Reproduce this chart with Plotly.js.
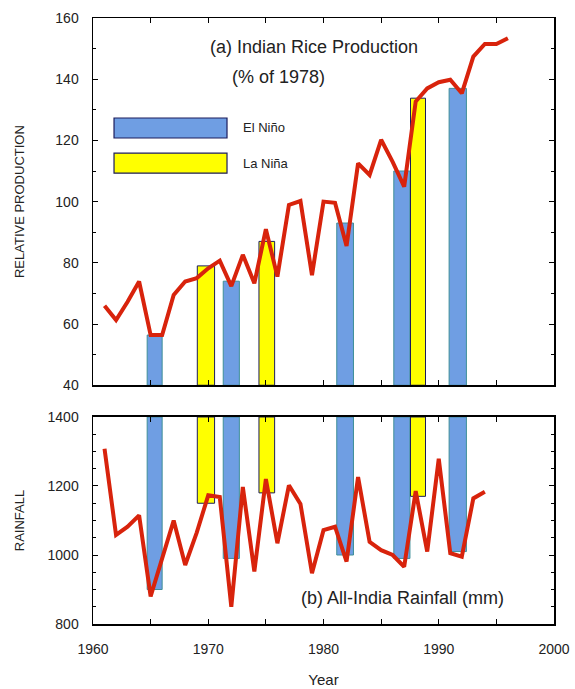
<!DOCTYPE html>
<html>
<head>
<meta charset="utf-8">
<script src="https://cdn.plot.ly/plotly-3.0.1.min.js"></script>
<style>html,body{margin:0;padding:0;background:#fff;}#chart{width:575px;height:689px;}</style>
</head>
<body>
<div id="chart"></div>
<script>
// ---- data ----
const riceYears = [1961,1962,1963,1964,1965,1966,1967,1968,1969,1970,1971,1972,1973,1974,1975,1976,1977,1978,1979,1980,1981,1982,1983,1984,1985,1986,1987,1988,1989,1990,1991,1992,1993,1994,1995,1996];
const riceProduction = [66,61.3,67.3,73.9,56.4,56.4,69.5,73.9,75,78.2,80.7,72.4,82.6,73.3,91,75.5,98.9,100.2,76,100,99.6,85.5,112.5,108.7,120.2,113,104.9,132.7,137,139,139.8,135.4,147.4,151.5,151.5,153.4];

const rainYears = [1961,1962,1963,1964,1965,1966,1967,1968,1969,1970,1971,1972,1973,1974,1975,1976,1977,1978,1979,1980,1981,1982,1983,1984,1985,1986,1987,1988,1989,1990,1991,1992,1993,1994];
const rainfall = [1308,1058,1082,1115,880,990,1100,971,1065,1173,1168,850,1197,952,1220,1034,1202,1148,947,1072,1082,981,1226,1038,1014,1000,966,1185,1010,1279,1005,995,1164,1183];

// El Niño events: span of the shaded bar (years), top in panel (a), bottom in panel (b)
const elNinoStart = [1964.7,1971.3,1981.15,1986.1,1990.9];
const elNinoEnd   = [1966.0,1972.7,1982.6,1987.5,1992.4];
const elNinoProd  = [56.4,74,93,110,137];
const elNinoRain  = [900,990,1000,990,1010];

// La Niña events
const laNinaStart = [1969.05,1974.4,1987.55];
const laNinaEnd   = [1970.55,1975.76,1988.85];
const laNinaProd  = [79,87,133.8];
const laNinaRain  = [1150,1180,1170];

const prodBase = 40, rainTop = 1400;

const mid = (s,e) => s.map((v,i) => (v + e[i]) / 2);
const wid = (s,e) => s.map((v,i) => e[i] - v);

const blueFill = '#6f9ee3', blueEdge = '#3f8f98';
const yellowFill = '#ffff00', yellowEdge = '#1c1c5c';
const red = '#d8230c';

const traces = [
  {type:'bar', x: mid(elNinoStart,elNinoEnd), width: wid(elNinoStart,elNinoEnd),
   y: elNinoProd.map(v => v - prodBase), base: elNinoProd.map(() => prodBase),
   xaxis:'x', yaxis:'y', marker:{color:blueFill, line:{color:blueEdge, width:1}}, showlegend:false, hoverinfo:'skip'},
  {type:'bar', x: mid(laNinaStart,laNinaEnd), width: wid(laNinaStart,laNinaEnd),
   y: laNinaProd.map(v => v - prodBase), base: laNinaProd.map(() => prodBase),
   xaxis:'x', yaxis:'y', marker:{color:yellowFill, line:{color:yellowEdge, width:1}}, showlegend:false, hoverinfo:'skip'},
  {type:'bar', x: mid(elNinoStart,elNinoEnd), width: wid(elNinoStart,elNinoEnd),
   y: elNinoRain.map(v => rainTop - v), base: elNinoRain,
   xaxis:'x2', yaxis:'y2', marker:{color:blueFill, line:{color:blueEdge, width:1}}, showlegend:false, hoverinfo:'skip'},
  {type:'bar', x: mid(laNinaStart,laNinaEnd), width: wid(laNinaStart,laNinaEnd),
   y: laNinaRain.map(v => rainTop - v), base: laNinaRain,
   xaxis:'x2', yaxis:'y2', marker:{color:yellowFill, line:{color:yellowEdge, width:1}}, showlegend:false, hoverinfo:'skip'},
  {type:'scatter', mode:'lines', x: riceYears, y: riceProduction, xaxis:'x', yaxis:'y',
   line:{color:red, width:4}, showlegend:false},
  {type:'scatter', mode:'lines', x: rainYears, y: rainfall, xaxis:'x2', yaxis:'y2',
   line:{color:red, width:4}, showlegend:false}
];

const tickFont = {family:'Liberation Sans, Arial, sans-serif', size:14, color:'#222'};
const axCommon = {
  showline:true, linecolor:'#000', linewidth:1.5, mirror:'ticks',
  ticks:'inside', ticklen:5, tickcolor:'#000', tickwidth:1,
  showgrid:false, zeroline:false, tickfont:tickFont, ticklabelstandoff:10
};

const layout = {
  width:575, height:689,
  margin:{l:93, r:21, t:18, b:65},
  paper_bgcolor:'#fff', plot_bgcolor:'#fff',
  barmode:'overlay', bargap:0,
  font:{family:'Liberation Sans, Arial, sans-serif', color:'#222'},
  xaxis: Object.assign({}, axCommon, {anchor:'y', range:[1960,2000], dtick:10, showticklabels:false,
    minor:{dtick:5, ticks:'inside', ticklen:5, tickcolor:'#000'}}),
  yaxis: Object.assign({}, axCommon, {domain:[0.394,1], range:[40,160], dtick:20,
    minor:{dtick:10, ticks:'inside', ticklen:3, tickcolor:'#000'},
    title:{text:'RELATIVE PRODUCTION', font:{size:13, color:'#222'}, standoff:28}}),
  xaxis2: Object.assign({}, axCommon, {anchor:'y2', range:[1960,2000], dtick:10, ticklabelstandoff:12,
    minor:{dtick:5, ticks:'inside', ticklen:5, tickcolor:'#000'},
    title:{text:'Year', font:{size:15, color:'#222'}, standoff:18}}),
  yaxis2: Object.assign({}, axCommon, {domain:[0,0.3416], range:[800,1400], dtick:200,
    minor:{dtick:50, ticks:'inside', ticklen:3, tickcolor:'#000'},
    title:{text:'RAINFALL', font:{size:13, color:'#222'}, standoff:20}}),
  shapes:[
    {type:'rect', xref:'paper', yref:'paper', x0:0.0456, x1:0.2907, y0:0.802, y1:0.835,
     fillcolor:blueFill, line:{color:'#1c1c5c', width:1.2}},
    {type:'rect', xref:'paper', yref:'paper', x0:0.0456, x1:0.2907, y0:0.744, y1:0.777,
     fillcolor:yellowFill, line:{color:'#1c1c5c', width:1.2}}
  ],
  annotations:[
    {text:'El Niño', xref:'paper', yref:'paper', x:0.321, y:0.8185, xanchor:'left', yanchor:'middle', showarrow:false, font:{size:13, color:'#222'}},
    {text:'La Niña', xref:'paper', yref:'paper', x:0.321, y:0.7607, xanchor:'left', yanchor:'middle', showarrow:false, font:{size:13, color:'#222'}},
    {text:'(a) Indian Rice Production', xref:'paper', yref:'paper', x:0.479, y:0.952, xanchor:'center', yanchor:'middle', showarrow:false, font:{size:18, color:'#222'}},
    {text:'(% of 1978)', xref:'paper', yref:'paper', x:0.403, y:0.902, xanchor:'center', yanchor:'middle', showarrow:false, font:{size:18, color:'#222'}},
    {text:'(b) All-India Rainfall (mm)', xref:'paper', yref:'paper', x:0.672, y:0.043, xanchor:'center', yanchor:'middle', showarrow:false, font:{size:18, color:'#222'}}
  ]
};

Plotly.newPlot('chart', traces, layout, {staticPlot:true, displayModeBar:false});
</script>
</body>
</html>
